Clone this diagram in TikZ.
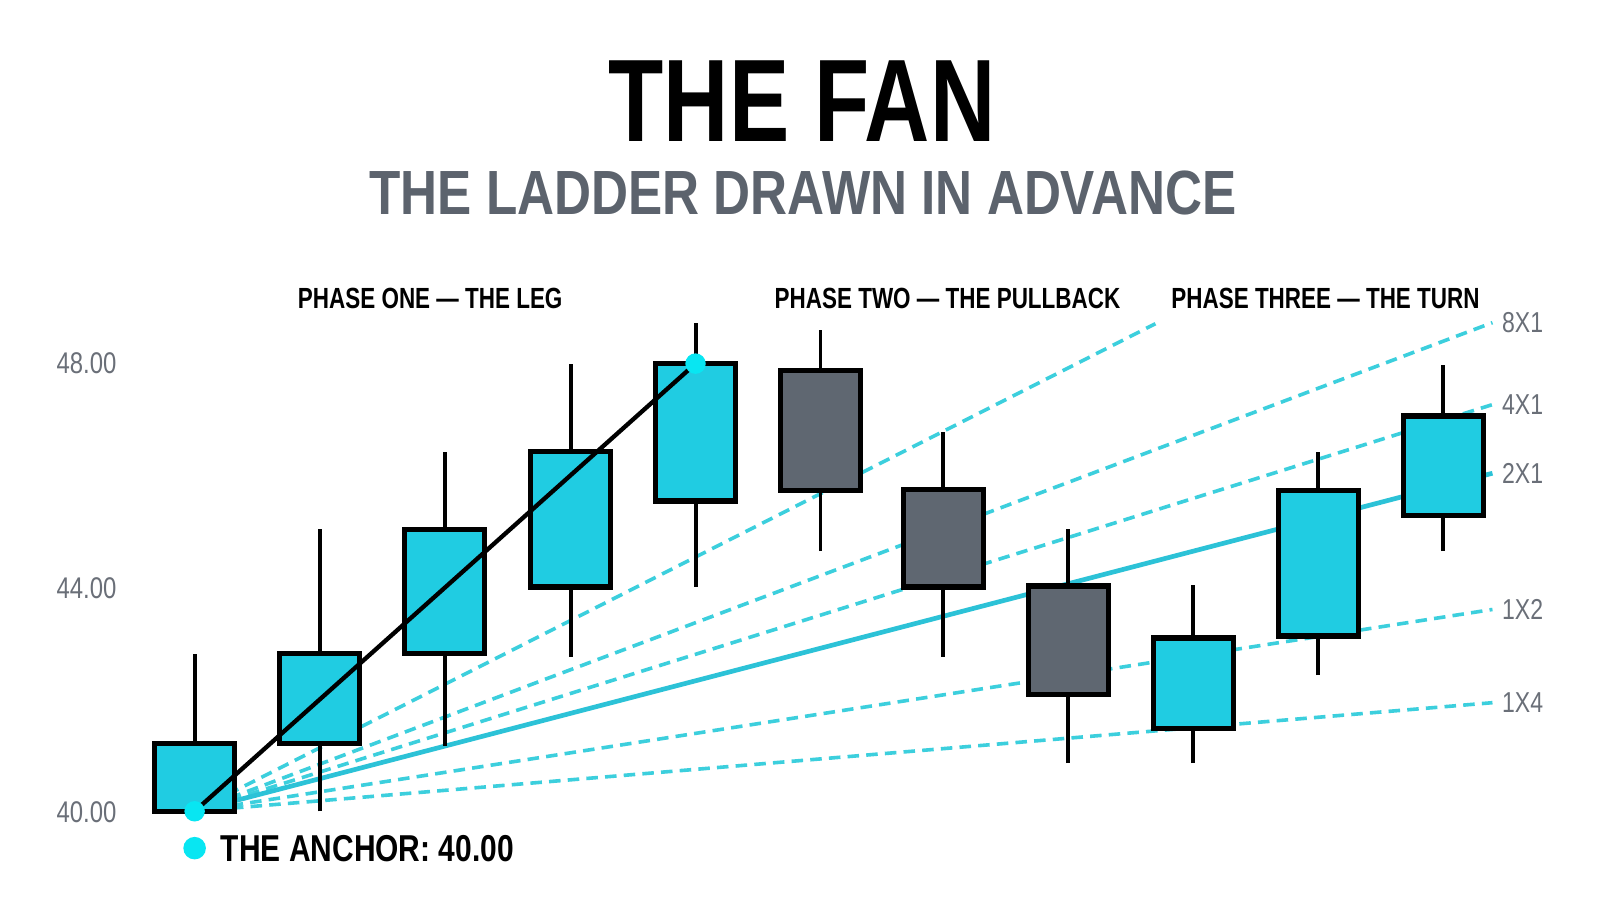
\documentclass[tikz,border=0pt]{standalone}
\usepackage{fontspec}
\setmainfont{Liberation Sans}
\newfontfamily\boldcond[FakeStretch=0.77]{Liberation Sans}
\newfontfamily\widecond[FakeStretch=0.82]{Liberation Sans}
\newfontfamily\plaincond[FakeStretch=0.80]{Liberation Sans}
\usepackage{xcolor}
\usepackage{tikz}
\usetikzlibrary{positioning, calc}
\definecolor{candlecyan}{HTML}{20CCE2}
\definecolor{candlegray}{HTML}{5F6771}
\definecolor{fancyan}{HTML}{3CCFDD}
\definecolor{raycyan}{HTML}{2CC2D7}
\definecolor{dotcyan}{HTML}{08E6F2}
\definecolor{slategray}{HTML}{5C636D}
\definecolor{ticklabel}{HTML}{6A6F78}

\begin{document}
\begin{tikzpicture}
  % Canvas
  \fill[white] (0,0) rectangle (15.62,8.92);
  \useasboundingbox (0,0) rectangle (15.62,8.92);

  % Title and subtitle
  \node[black, font=\boldcond\bfseries\fontsize{32.6}{32.6}\selectfont] (title) at (7.83,7.93) {THE FAN};
  \node[slategray, font=\widecond\bfseries\fontsize{17.35}{17.35}\selectfont] (subtitle) at (7.84,7.04) {THE LADDER DRAWN IN ADVANCE};

  % Phase labels
  \foreach \x/\nm/\label in {4.20/phaseone/PHASE ONE — THE LEG, 9.25/phasetwo/PHASE TWO — THE PULLBACK, 12.94/phasethree/PHASE THREE — THE TURN} {
    \node[black, font=\boldcond\bfseries\fontsize{8.1}{8.1}\selectfont] (\nm) at (\x,6.01) {\label};
  }

  % Price axis labels
  \foreach \y/\nm/\price in {5.37/tickhigh/48.00, 3.18/tickmid/44.00, 0.99/ticklow/40.00} {
    \node[ticklabel, font=\plaincond\fontsize{8.3}{8.3}\selectfont] (\nm) at (0.845,\y) {\price};
  }

  % Anchor and fan end points
  \coordinate (anchor) at (1.90,1.00);
  \coordinate (peak) at (6.79,5.37);
  \coordinate (fansteep) at (11.28,5.76);
  \coordinate (fan8) at (14.57,5.77);
  \coordinate (fan4) at (14.57,4.97);
  \coordinate (fan2) at (14.57,4.30);
  \coordinate (fanhalf) at (14.57,2.97);
  \coordinate (fanquarter) at (14.57,2.06);

  % Fan lines (behind the candles)
  \foreach \target in {fansteep, fan8, fan4, fanhalf, fanquarter} {
    \draw[fancyan, line width=1pt, dash pattern=on 3.2pt off 2pt] (anchor) -- (\target);
  }
  \draw[raycyan, line width=1.3pt] (anchor) -- (fan2);

  % Fan labels
  \foreach \target/\label in {fan8/8X1, fan4/4X1, fan2/2X1, fanhalf/1X2, fanquarter/1X4} {
    \node[ticklabel, anchor=west, font=\plaincond\fontsize{8}{8}\selectfont, right=-0.03cm of \target] (lbl\target) {\label};
  }

  % Candles: x / low / body bottom / body top / high / fill
  \foreach \cx/\wlo/\blo/\bhi/\whi/\cfill in {
      1.90/1.00/1.00/1.66/2.54/candlecyan,
      3.12/1.00/1.66/2.54/3.76/candlecyan,
      4.34/1.64/2.54/3.75/4.51/candlecyan,
      5.57/2.51/3.19/4.51/5.37/candlecyan,
      6.79/3.19/4.03/5.37/5.77/candlecyan,
      8.01/3.54/4.13/5.30/5.70/candlegray,
      9.21/2.51/3.19/4.14/4.70/candlegray,
      10.43/1.47/2.14/3.20/3.76/candlegray,
      11.65/1.47/1.81/2.69/3.21/candlecyan,
      12.87/2.33/2.71/4.13/4.51/candlecyan,
      14.09/3.54/3.89/4.86/5.36/candlecyan} {
    \draw[black, line width=1.1pt] (\cx,\wlo) -- (\cx,\whi);
    \filldraw[fill=\cfill, draw=black, line width=1.5pt] (\cx-0.39,\blo) rectangle (\cx+0.39,\bhi);
  }

  % The leg
  \draw[black, line width=1.2pt] (anchor) -- (peak);
  \fill[dotcyan] (anchor) circle (0.10);
  \fill[dotcyan] (peak) circle (0.10);

  % Anchor legend
  \fill[dotcyan] (1.90,0.64) circle (0.11);
  \node[black, anchor=west, inner sep=0pt, font=\plaincond\bfseries\fontsize{10.4}{10.4}\selectfont] (legend) at (2.15,0.64) {THE ANCHOR: 40.00};
\end{tikzpicture}
\end{document}
